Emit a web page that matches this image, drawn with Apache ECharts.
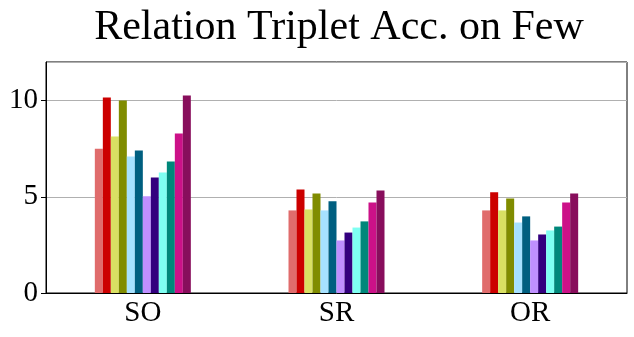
<!DOCTYPE html>
<html>
<head>
<meta charset="utf-8">
<script src="https://cdn.jsdelivr.net/npm/echarts@6/dist/echarts.min.js"></script>
<style>
  html, body { margin: 0; padding: 0; background: #fff; }
  #chart { width: 634px; height: 337px; }
</style>
</head>
<body>
<div id="chart"></div>
<script>
const categories = ["SO", "SR", "OR"];
const yTicks = [0, 5, 10];
// one array per bar position inside each group (SO, SR, OR)
const m1 = [7.5, 4.29, 4.29];
const m2 = [10.16, 5.38, 5.23];
const m3 = [8.13, 4.34, 4.29];
const m4 = [10.0, 5.17, 4.91];
const m5 = [7.09, 4.29, 3.66];
const m6 = [7.4, 4.76, 3.98];
const m7 = [5.02, 2.73, 2.73];
const m8 = [6.0, 3.14, 3.04];
const m9 = [6.26, 3.4, 3.25];
const m10 = [6.83, 3.72, 3.45];
const m11 = [8.29, 4.7, 4.7];
const m12 = [10.26, 5.33, 5.17];

const seriesData = [m1, m2, m3, m4, m5, m6, m7, m8, m9, m10, m11, m12];
const colors = ["#E06C6C", "#CC0000", "#D9E063", "#808C00", "#A6E1FF", "#005F80",
                "#BF8FFF", "#33007E", "#7FFFF2", "#00877A", "#CC1188", "#880E5C"];

const font = "'Liberation Serif', 'DejaVu Serif', serif";
const chart = echarts.init(document.getElementById("chart"));

chart.setOption({
  animation: false,
  title: {
    text: "Relation Triplet Acc. on Few",
    left: 334,
    textAlign: "center",
    top: 2,
    textStyle: { fontFamily: font, fontSize: 42, fontWeight: "normal", color: "#000" }
  },
  grid: {
    left: 46, right: 7, top: 62, bottom: 44,
    show: true, borderColor: "#000", borderWidth: 1, backgroundColor: "transparent"
  },
  xAxis: {
    type: "category",
    data: categories,
    axisLine: { lineStyle: { color: "#000" } },
    axisTick: { alignWithLabel: true, length: 5, lineStyle: { color: "#000" } },
    axisLabel: { fontFamily: font, fontSize: 29, color: "#000", margin: 6 }
  },
  yAxis: {
    type: "value",
    min: 0, max: 12, interval: 5,
    axisLine: { show: true, lineStyle: { color: "#000" } },
    axisTick: { show: true, length: 5, lineStyle: { color: "#000" } },
    axisLabel: {
      fontFamily: font, fontSize: 29, color: "#000", margin: 8,
      showMaxLabel: false,
      formatter: v => (yTicks.includes(v) ? String(v) : "")
    },
    splitLine: { show: true, lineStyle: { color: "#b0b0b0", width: 1 } }
  },
  series: seriesData.map((d, i) => ({
    type: "bar",
    data: d,
    barWidth: 8,
    barGap: "0%",
    itemStyle: { color: colors[i] }
  }))
});
</script>
</body>
</html>
